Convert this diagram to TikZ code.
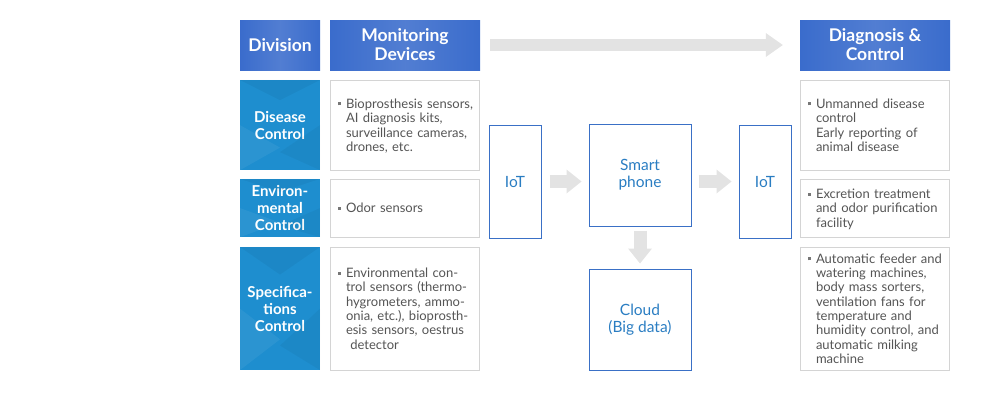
\documentclass[tikz,border=0pt]{standalone}
\usepackage{fontspec}
\setmainfont{Lato}
\usetikzlibrary{arrows.meta,calc,positioning}
\definecolor{headblue}{RGB}{58,108,204}
\definecolor{cellblue}{RGB}{30,142,207}
\definecolor{netblue}{RGB}{58,112,198}
\definecolor{nettext}{RGB}{42,125,194}
\definecolor{itemgray}{RGB}{85,85,85}
\definecolor{boxgray}{RGB}{212,212,212}
\definecolor{arrowgray}{RGB}{227,227,227}
\newcommand\bul{\textcolor{itemgray!80}{\rule[3pt]{3pt}{3pt}}}
\newcommand\bitem[1]{\raisebox{-2pt}[\height][\depth]{\begin{tabular}{@{}l@{\kern5pt}l@{}}\bul&\begin{tabular}[t]{@{}l@{}}#1\end{tabular}\end{tabular}}}
\tikzset{
  head/.style={left color=headblue, right color=headblue, middle color=headblue!88!white,
    text=white, font=\fontsize{17.5}{19}\selectfont\bfseries, align=center,
    inner sep=0pt, minimum height=50pt, minimum width=#1},
  cell/.style={fill=cellblue, text=white, font=\fontsize{15}{17}\selectfont\bfseries,
    align=center, inner sep=0pt, minimum width=80pt, minimum height=#1},
  item/.style={draw=boxgray, line width=1pt, fill=white, text=itemgray,
    font=\fontsize{13}{14.3}\selectfont, text width=134pt, inner xsep=7.5pt,
    inner ysep=0pt, align=left, minimum height=#1},
  net/.style={draw=netblue, line width=1pt, text=nettext, font=\fontsize{15.5}{17}\selectfont,
    align=center, inner sep=0pt, minimum width=#1},
  fatarrow/.style={arrowgray, line width=13pt, -{Triangle[length=15pt,width=24pt,line width=0pt]}}
}
\begin{document}
\begin{tikzpicture}[x=1pt,y=-1pt]
\useasboundingbox (0,0) rectangle (1000,400);
% table heads
\node[head=80pt] (div) at (280,45) {Division};
\node[head=150pt] (mon) at (405,45) {Monitoring\\Devices};
\node[head=150pt] (diag) at (875,45) {Diagnosis \&\\Control};
% divisions
\node[cell=90pt] (dis) at (280,125) {Disease\\Control};
\node[cell=58pt] (env) at (280,208) {Environ-\\mental\\Control};
\node[cell=123pt] (spec) at (280,308.5) {Specifica-\\tions\\Control};
\foreach \c in {dis,env,spec}{
  \begin{scope}
    \clip (\c.south west) rectangle (\c.north east);
    \fill[black,opacity=.045] (\c.north west) -- (\c.north east) -- ($(\c.north)!.45!(\c.center)$) -- cycle;
    \fill[white,opacity=.06] (\c.south west) -- (\c.west) -- ($(\c.south)!.5!(\c.center)$) -- cycle;
    \fill[black,opacity=.04] (\c.south east) -- (\c.east) -- ($(\c.south)!.4!(\c.center)$) -- cycle;
  \end{scope}
}
% monitoring devices
\node[item=90pt] (monA) at (405,125) {\bitem{Bioprosthesis sensors,\\AI diagnosis kits,\\surveillance cameras,\\drones, etc.}};
\node[item=58pt] (monB) at (405,208) {\bitem{Odor sensors}};
\node[item=123pt] (monC) at (405,308.5) {\bitem{Environmental con-\\trol sensors (thermo-\\hygrometers, ammo-\\onia, etc.), bioprosth-\\esis sensors, oestrus\\\ detector}};
% network
\node[net=52pt, minimum height=113pt] (iotA) at (515,181.5) {IoT};
\node[net=102pt, minimum height=102pt] (phone) at (640,175) {Smart\\phone};
\node[net=102pt, minimum height=101pt] (cloud) at (640,319.5) {Cloud\\(Big data)};
\node[net=52pt, minimum height=113pt] (iotB) at (765,181.5) {IoT};
% diagnosis and control
\node[item=90pt] (ctlA) at (875,125) {\bitem{Unmanned disease\\control\\Early reporting of\\animal disease}};
\node[item=58pt] (ctlB) at (875,208) {\bitem{Excretion treatment\\and odor purification\\facility}};
\node[item=123pt] (ctlC) at (875,308.5) {\bitem{Automatic feeder and\\watering machines,\\body mass sorters,\\ventilation fans for\\temperature and\\humidity control, and\\automatic milking\\machine}};
% arrows
\draw[fatarrow,line width=12pt,-{Triangle[length=17pt,width=24pt,line width=0pt]}] ($(mon.east)+(10,0)$) -- ($(diag.west)+(-17,0)$);
\draw[fatarrow] ($(iotA.east)+(8,0)$) -- ($(iotA.east -| phone.west)+(-7,0)$);
\draw[fatarrow] ($(iotB.west -| phone.east)+(7,0)$) -- ($(iotB.west)+(-7,0)$);
\draw[fatarrow] ($(phone.south)+(0,4)$) -- ($(cloud.north)+(0,-5)$);
\end{tikzpicture}
\end{document}
